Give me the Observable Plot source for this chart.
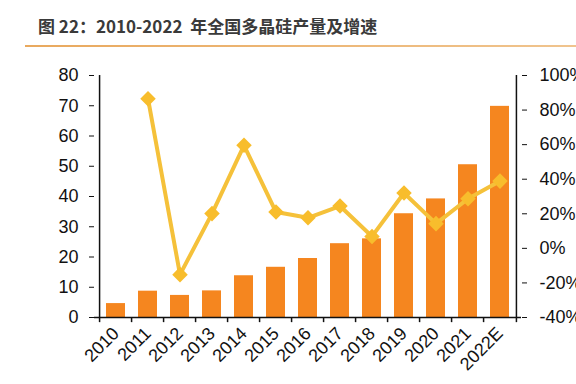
<!DOCTYPE html>
<html><head><meta charset="utf-8">
<script src="https://cdn.jsdelivr.net/npm/d3@7"></script>
<script src="https://cdn.jsdelivr.net/npm/@observablehq/plot@0.6"></script>
<style>
body{margin:0;background:#fff;}
#wrap{position:relative;width:576px;height:384px;overflow:hidden;}
#title{position:absolute;left:38px;top:13px;font-family:"Noto Sans CJK SC","Open Sans",sans-serif;font-weight:bold;font-size:17px;color:#3a3a3a;white-space:pre;}
#rule{position:absolute;left:25px;top:45px;width:551px;height:2px;background:linear-gradient(90deg,#e9a95e,#f0c48e);}
#chart{position:absolute;left:0;top:0;}
</style></head>
<body><div id="wrap"><div id="chart"></div><div id="title">图 22：2010-2022  年全国多晶硅产量及增速</div><div id="rule"></div></div>
<script>
const years = ["2010","2011","2012","2013","2014","2015","2016","2017","2018","2019","2020","2021","2022E"];
const output = [4.6, 8.7, 7.3, 8.8, 13.8, 16.6, 19.5, 24.4, 26.0, 34.3, 39.2, 50.5, 69.8];
const growth = [null, 86.6, -15.2, 20.1, 59.6, 21.0, 17.7, 24.5, 6.9, 32.0, 14.3, 28.7, 38.9];
const leftTicks = [0,10,20,30,40,50,60,70,80];
const rightTicks = [-40,-20,0,20,40,60,80,100];

const pctToY = p => (p + 40) * 80 / 140;
const yToPct = y => Math.round(y * 140 / 80 - 40);
const rows = years.map((y, i) => ({year: y, output: output[i], growth: growth[i]}));
const lineRows = rows.filter(d => d.growth != null);

const W = 576, H = 384, mL = 94, mR = 55;
const step = (W - mL - mR) / years.length;
const font = "'Liberation Sans', Arial, sans-serif";

const chart = Plot.plot({
  width: W, height: H,
  marginLeft: mL, marginRight: mR, marginTop: 75, marginBottom: 67,
  style: {fontFamily: font, background: "transparent", color: "#111"},
  x: {domain: years, paddingInner: 0.4, paddingOuter: 0.2, label: null},
  y: {domain: [0, 80], label: null},
  marks: [
    Plot.barY(rows, {x: "year", y: "output", fill: "#F5861F"}),
    Plot.ruleY([0], {stroke: "#111", strokeWidth: 1.5}),
    Plot.ruleX([years[0]], {x: d => d, y1: 0, y2: 80, dx: -step / 2, stroke: "#111", strokeWidth: 1.5}),
    Plot.ruleX([years[years.length - 1]], {x: d => d, y1: -1.7, y2: 80, dx: step / 2, stroke: "#111", strokeWidth: 1.5}),
    Plot.ruleX(years, {x: d => d, y1: 0, y2: -1.7, dx: -step / 2, stroke: "#111", strokeWidth: 1.5}),
    Plot.axisY({anchor: "left", ticks: leftTicks, tickSize: 5, tickPadding: 11, fontSize: 18, label: null, tickFormat: d => d}),
    Plot.axisY({anchor: "right", ticks: rightTicks.map(pctToY), tickSize: 5, tickPadding: 13, fontSize: 18, label: null, tickFormat: d => yToPct(d) + "%"}),
    Plot.axisX({tickSize: 0, tickPadding: 13, tickRotate: -45, fontSize: 18, label: null}),
    Plot.line(lineRows, {x: "year", y: d => pctToY(d.growth), stroke: "#F5C13A", strokeWidth: 4}),
    Plot.dot(lineRows, {x: "year", y: d => pctToY(d.growth), symbol: "square", r: 6.2, rotate: 45, fill: "#F8BD2C", stroke: "none"})
  ]
});
document.getElementById("chart").appendChild(chart);
</script>
</body></html>
